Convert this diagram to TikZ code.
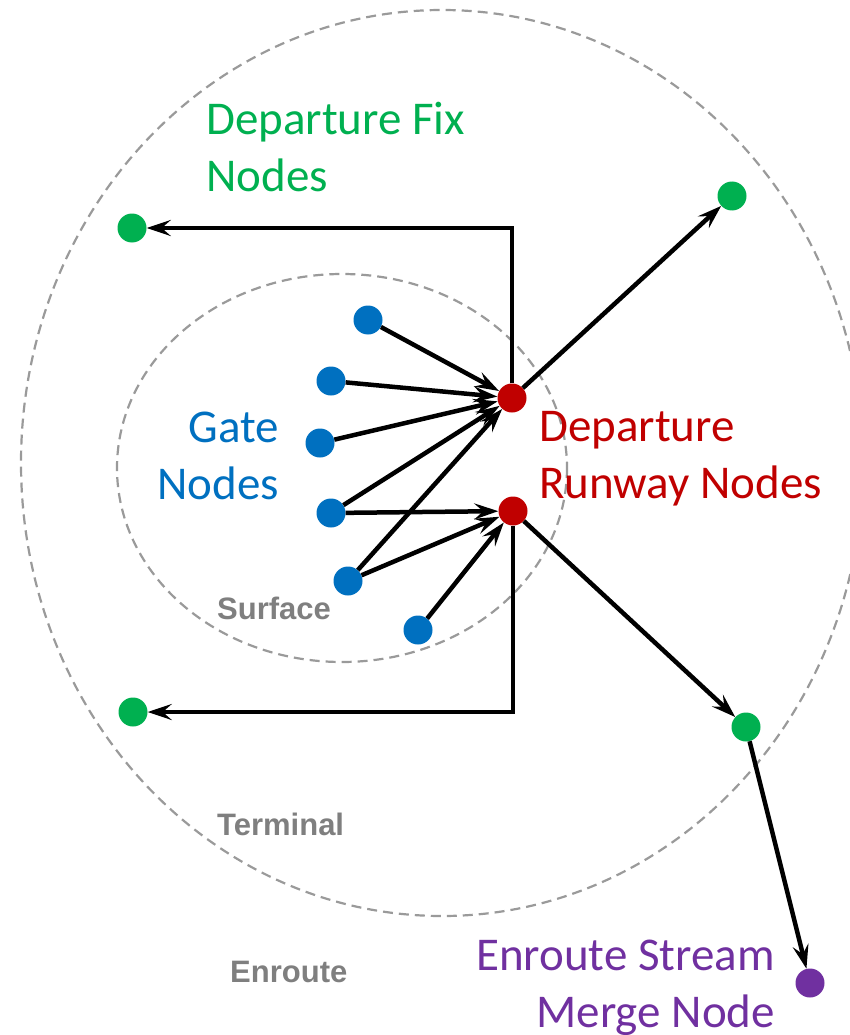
\documentclass[tikz,border=0pt]{standalone}
\usepackage{fontspec}
\setmainfont{Carlito}
\newfontfamily\grayfont{Liberation Sans}
\usetikzlibrary{arrows.meta}
\definecolor{fixgreen}{HTML}{00B050}
\definecolor{gateblue}{HTML}{0070C0}
\definecolor{rwyred}{HTML}{C00000}
\definecolor{mergepurple}{HTML}{7030A0}
\definecolor{zonegray}{HTML}{7F7F7F}
\definecolor{ringgray}{HTML}{9A9A9A}
\begin{document}
\begin{tikzpicture}[x=1pt,y=-1pt,
  dot/.style={circle,inner sep=0pt,minimum size=29pt},
  gate/.style={dot,fill=gateblue},
  rwy/.style={dot,fill=rwyred},
  fix/.style={dot,fill=fixgreen},
  merge/.style={dot,fill=mergepurple},
  ring/.style={draw=ringgray,line width=2.2pt,dash pattern=on 10pt off 6pt},
  arr/.style={draw=black,line width=4.5pt,-{Stealth[length=24pt,width=16pt,inset=9pt]}},
  bigtext/.style={font=\fontsize{47}{57}\selectfont,inner sep=0pt},
  zone/.style={font=\grayfont\bfseries\fontsize{31}{36}\selectfont,text=zonegray,inner sep=0pt}
]
\useasboundingbox (0,0) rectangle (850,1035);
\begin{scope}
\clip (0,0) rectangle (850,1035);
\draw[ring] (442,463) ellipse [x radius=421, y radius=453];
\draw[ring] (342,468) ellipse [x radius=225, y radius=194];

% nodes
\node[gate] (b1) at (368,320) {};
\node[gate] (b2) at (331,381) {};
\node[gate] (b3) at (320,443) {};
\node[gate] (b4) at (331,513) {};
\node[gate] (b5) at (348,581) {};
\node[gate] (b6) at (418,630) {};
\node[rwy] (r1) at (512,398) {};
\node[rwy] (r2) at (513,511) {};
\node[fix] (g1) at (132,228) {};
\node[fix] (g2) at (732,196) {};
\node[fix] (g3) at (133,712) {};
\node[fix] (g4) at (746,727) {};
\node[merge] (p) at (810,983) {};

% connectors
\draw[arr] (b1) -- (r1);
\draw[arr] (b2) -- (r1);
\draw[arr] (b3) -- (r1);
\draw[arr] (b4) -- (r1);
\draw[arr] (b5) -- (r1);
\draw[arr] (b4) -- (r2);
\draw[arr] (b5) -- (r2);
\draw[arr] (b6) -- (r2);
\draw[arr] (r1) |- (g1);
\draw[arr] (r2) |- (g3);
\draw[arr] (r1) -- (g2);
\draw[arr] (r2) -- (g4);
\draw[arr] (g4) -- (p);

% labels (base anchor = baseline of the last line)
\node[bigtext,text=fixgreen,anchor=base west,align=left] (lfix) at (206,191) {Departure Fix\\Nodes};
\node[bigtext,text=gateblue,anchor=base east,align=right] (lgate) at (279,499) {Gate\\Nodes};
\node[bigtext,text=rwyred,anchor=base west,align=left] (lrwy) at (539,498) {Departure\\Runway Nodes};
\node[bigtext,text=mergepurple,anchor=base east,align=right] (lmerge) at (775,1027) {Enroute Stream\\Merge Node};
\node[zone,anchor=base west] (lsurf) at (217,619) {Surface};
\node[zone,anchor=base west] (lterm) at (217,835) {Terminal};
\node[zone,anchor=base west] (lenr) at (230,982) {Enroute};
\end{scope}
\end{tikzpicture}
\end{document}
